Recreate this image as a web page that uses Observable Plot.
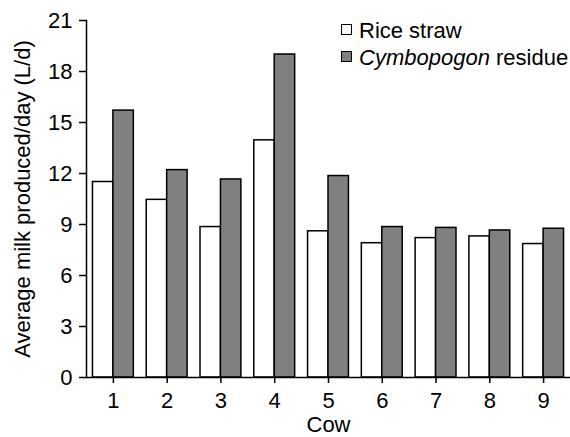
<!DOCTYPE html>
<html><head><meta charset="utf-8">
<script src="https://cdn.jsdelivr.net/npm/d3@7"></script>
<script src="https://cdn.jsdelivr.net/npm/@observablehq/plot@0.6"></script>
<style>
body{margin:0;background:#fff;}
#wrap{position:relative;width:570px;height:437px;font-family:"Liberation Sans",Arial,sans-serif;}
.legend{position:absolute;left:341px;top:17px;font-size:22px;color:#000;}
.row{display:flex;align-items:center;height:27px;white-space:nowrap;}
.sw{width:11px;height:11px;box-sizing:border-box;border:1.5px solid #000;margin-right:7px;position:relative;top:-1px;}
</style></head><body><div id="wrap"></div>
<script>
const cows = [1, 2, 3, 4, 5, 6, 7, 8, 9];
const riceStraw = [11.5, 10.45, 8.85, 13.95, 8.6, 7.9, 8.2, 8.3, 7.85];
const cymbopogon = [15.7, 12.2, 11.65, 19.0, 11.85, 8.85, 8.8, 8.65, 8.75];
const yTicks = [0, 3, 6, 9, 12, 15, 18, 21];
const seriesNames = ["Rice straw", "Cymbopogon residue"];
const seriesColors = ["#ffffff", "#808080"];

const W = 570, H = 437, ML = 86, MR = 0, MT = 20, MB = 60;
const padIn = 0.24, padOut = 0.12;
const step = (W - ML - MR) / (cows.length - padIn + 2 * padOut);
const half = step * (1 - padIn) / 2;
const rows = cows.map((c, i) => ({cow: c, rice: riceStraw[i], cym: cymbopogon[i]}));

const chart = Plot.plot({
  width: W, height: H, marginLeft: ML, marginRight: MR, marginTop: MT, marginBottom: MB,
  style: {fontFamily: '"Liberation Sans", Arial, sans-serif', fontSize: "22px", color: "#000", background: "#fff", overflow: "visible"},
  x: {type: "band", domain: cows, paddingInner: padIn, paddingOuter: padOut, round: false},
  y: {domain: [0, 21]},
  marks: [
    Plot.barY(rows, {x: "cow", y: "rice", fill: seriesColors[0], stroke: "#000", strokeWidth: 1.5, insetLeft: 0, insetRight: half}),
    Plot.barY(rows, {x: "cow", y: "cym", fill: seriesColors[1], stroke: "#000", strokeWidth: 1.5, insetLeft: half, insetRight: 0}),
    Plot.ruleY([0], {strokeWidth: 1.5}),
    Plot.frame({anchor: "left", strokeWidth: 1.5}),
    Plot.axisX({tickSize: 6, tickPadding: 9, strokeWidth: 1.5, label: "Cow", labelAnchor: "center", labelOffset: 54, labelArrow: "none"}),
    Plot.axisY({ticks: yTicks, tickSize: 7, tickPadding: 7, strokeWidth: 1.5, label: "Average milk produced/day (L/d)", labelAnchor: "center", labelOffset: 72, labelArrow: "none"})
  ]
});
const wrap = document.getElementById("wrap");
wrap.appendChild(chart);

const legend = document.createElement("div");
legend.className = "legend";
seriesNames.forEach((name, i) => {
  const row = document.createElement("div");
  row.className = "row";
  const sw = document.createElement("div");
  sw.className = "sw";
  sw.style.background = seriesColors[i];
  row.appendChild(sw);
  const t = document.createElement("span");
  if (i === 1) {
    t.innerHTML = "<i>Cymbopogon</i> residue";
  } else {
    t.textContent = name;
  }
  row.appendChild(t);
  legend.appendChild(row);
});
wrap.appendChild(legend);
</script>
</body></html>
